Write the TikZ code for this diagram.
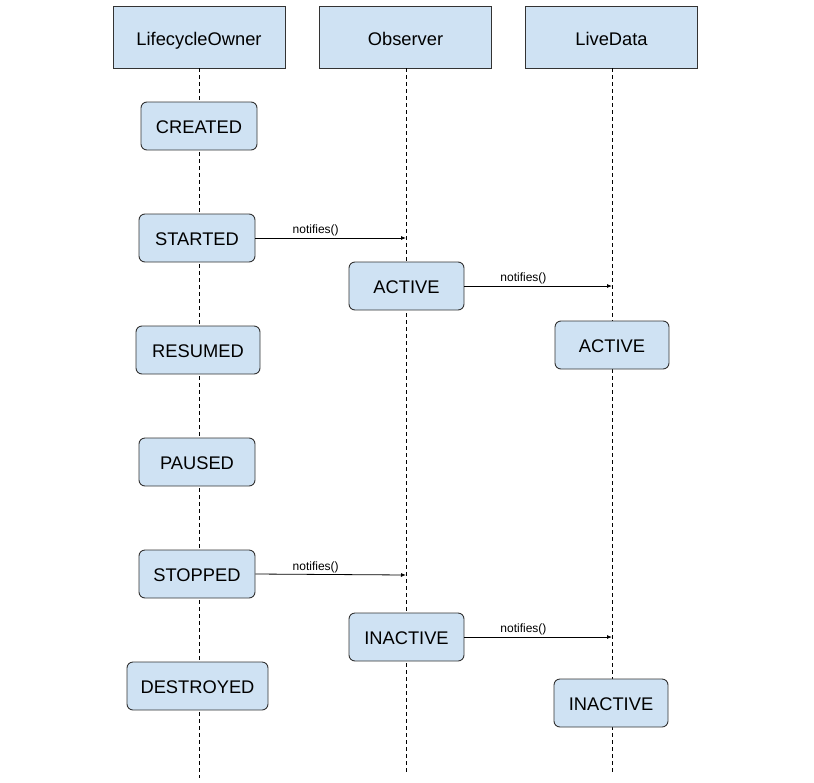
\documentclass[tikz,border=0pt]{standalone}
\usepackage{fontspec}
\setmainfont{Liberation Sans}
\usetikzlibrary{arrows.meta}
\definecolor{boxfill}{HTML}{CFE2F3}
\definecolor{boxline}{HTML}{333333}
\begin{document}
\begin{tikzpicture}[x=1pt,y=-1pt,
  header/.style={draw=boxline, fill=boxfill, line width=0.9pt, minimum width=172pt, minimum height=62pt, inner sep=0pt, text height=17pt, text depth=0pt, font=\fontsize{18.3}{21}\selectfont},
  state/.style={draw=boxline, fill=boxfill, line width=0.9pt, rounded corners=6pt, minimum height=48pt, inner sep=0pt, text height=15pt, text depth=0pt, font=\fontsize{18.3}{21}\selectfont},
  lifeline/.style={draw=black, line width=0.8pt, dash pattern=on 4pt off 3pt},
  msg/.style={draw=black, line width=0.8pt, -{Latex[length=5pt,width=4pt]}},
  msglabel/.style={font=\fontsize{12}{14}\selectfont, above, inner sep=1.5pt, pos=0.4}
]
\useasboundingbox (0,0) rectangle (814,782);
% headers
\node[header] (lo) at (199,37) {LifecycleOwner};
\node[header] (ob) at (405.5,37) {Observer};
\node[header] (ld) at (611.5,37) {LiveData};
% lifeline ends
\coordinate (loend) at (199,778);
\coordinate (obend) at (406,772);
\coordinate (ldend) at (612,774);
\draw[lifeline] (lo.south) -- (loend);
\draw[lifeline] (ob.south -| obend) -- (obend);
\draw[lifeline] (ld.south -| ldend) -- (ldend);
% states
\node[state, minimum width=116pt] (created) at (199,126) {CREATED};
\node[state, minimum width=116pt] (started) at (197,238) {STARTED};
\node[state, minimum width=124pt] (resumed) at (198,350) {RESUMED};
\node[state, minimum width=116pt] (paused) at (197,462) {PAUSED};
\node[state, minimum width=116pt] (stopped) at (197,574) {STOPPED};
\node[state, minimum width=141pt] (destroyed) at (197.5,686) {DESTROYED};
\node[state, minimum width=115pt] (obactive) at (406.5,286) {ACTIVE};
\node[state, minimum width=114pt] (ldactive) at (612,345) {ACTIVE};
\node[state, minimum width=115pt] (obinactive) at (406.5,637) {INACTIVE};
\node[state, minimum width=114pt] (ldinactive) at (611,703) {INACTIVE};
% message targets
\coordinate (t1) at (406,238);
\coordinate (t2) at (612,286);
\coordinate (t3) at (406,575);
\coordinate (t4) at (612,637);
\draw[msg] (started.east) -- node[msglabel]{notifies()} (t1);
\draw[msg] (obactive.east) -- node[msglabel]{notifies()} (t2);
\draw[msg] (stopped.east) -- node[msglabel]{notifies()} (t3);
\draw[msg] (obinactive.east) -- node[msglabel]{notifies()} (t4);
\end{tikzpicture}
\end{document}
